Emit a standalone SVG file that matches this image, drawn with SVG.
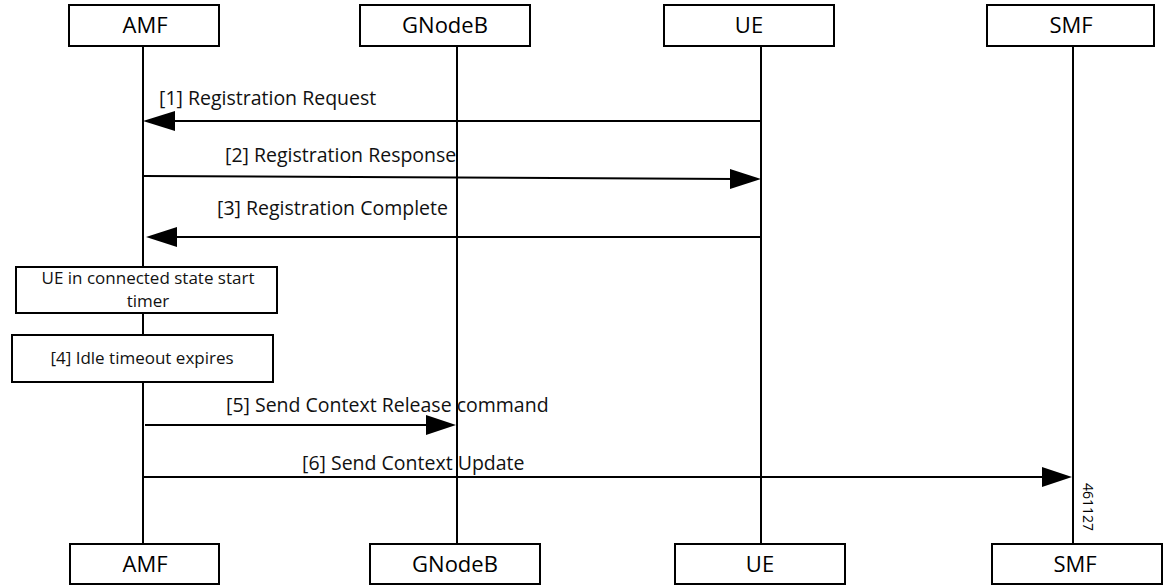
<svg xmlns="http://www.w3.org/2000/svg" width="1165" height="586" viewBox="0 0 1165 586">
<style>
.box{fill:#fff;stroke:#000;stroke-width:2}
.life{stroke:#000;stroke-width:2;fill:none}
.msg{stroke:#000;stroke-width:2;fill:none}
.head{fill:#000}
.title{font-family:"Open Sans","Noto Sans",sans-serif;font-size:22px;fill:#000;text-anchor:middle}
.lbl{font-family:"Open Sans","Noto Sans",sans-serif;font-size:19.5px;fill:#111}
.note{font-family:"Open Sans","Noto Sans",sans-serif;font-size:17px;fill:#111;text-anchor:middle}
.fig{font-family:"Open Sans","Noto Sans",sans-serif;font-size:14px;fill:#000;text-anchor:middle}
</style>
<rect width="1165" height="586" fill="#fff"/>
<g id="lifelines">
<line class="life" x1="143" y1="46" x2="143" y2="544"/>
<line class="life" x1="457" y1="46" x2="457" y2="544"/>
<line class="life" x1="761" y1="46" x2="761" y2="544"/>
<line class="life" x1="1073" y1="46" x2="1073" y2="544"/>
</g>
<g id="amf-top"><rect class="box" x="69" y="5" width="150" height="41"/><text class="title" x="145" y="33">AMF</text></g>
<g id="gnb-top"><rect class="box" x="360" y="5" width="170" height="41"/><text class="title" x="445" y="33">GNodeB</text></g>
<g id="ue-top"><rect class="box" x="664" y="5" width="170" height="41"/><text class="title" x="749" y="33">UE</text></g>
<g id="smf-top"><rect class="box" x="987" y="5" width="167" height="41"/><text class="title" x="1071" y="33">SMF</text></g>
<g id="amf-bottom"><rect class="box" x="70" y="544" width="149" height="40"/><text class="title" x="145" y="572">AMF</text></g>
<g id="gnb-bottom"><rect class="box" x="370" y="544" width="170" height="40"/><text class="title" x="455" y="572">GNodeB</text></g>
<g id="ue-bottom"><rect class="box" x="675" y="544" width="170" height="40"/><text class="title" x="760" y="572">UE</text></g>
<g id="smf-bottom"><rect class="box" x="992" y="544" width="170" height="40"/><text class="title" x="1075" y="572">SMF</text></g>
<g id="note-connected"><rect class="box" x="16" y="267" width="261" height="46"/><text class="note" x="148" y="284">UE in connected state start</text><text class="note" x="148" y="307">timer</text></g>
<g id="note-idle"><rect class="box" x="12" y="335" width="261" height="47"/><text class="note" x="142" y="364">[4] Idle timeout expires</text></g>
<g id="connectors">
<line class="msg" x1="761" y1="121" x2="170" y2="121"/>
<polygon class="head" points="143,121 175,111 175,131"/>
<text class="lbl" x="159" y="105">[1] Registration Request</text>
<line class="msg" x1="143" y1="176" x2="735" y2="179"/>
<polygon class="head" points="761,179 730,169 730,189"/>
<text class="lbl" x="225" y="162">[2] Registration Response</text>
<line class="msg" x1="761" y1="237" x2="172" y2="237"/>
<polygon class="head" points="146,237 177,227 177,247"/>
<text class="lbl" x="217" y="215">[3] Registration Complete</text>
<line class="msg" x1="145" y1="425" x2="430" y2="425"/>
<polygon class="head" points="456,425 426,415 426,435"/>
<text class="lbl" x="226" y="412">[5] Send Context Release command</text>
<line class="msg" x1="143" y1="477" x2="1046" y2="477"/>
<polygon class="head" points="1072,477 1042,467 1042,487"/>
<text class="lbl" x="302" y="470">[6] Send Context Update</text>
</g>
<text class="fig" transform="translate(1083,507) rotate(90)">461127</text>
</svg>
